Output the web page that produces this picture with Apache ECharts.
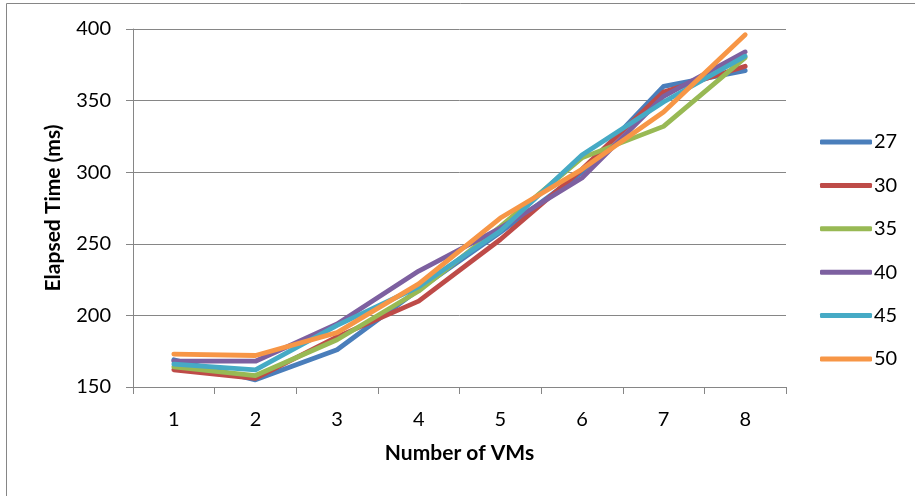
<!DOCTYPE html>
<html><head><meta charset="utf-8">
<script src="https://cdn.jsdelivr.net/npm/echarts@6/dist/echarts.min.js"></script>
<style>html,body{margin:0;padding:0;background:#fff}#c{width:915px;height:496px}</style>
</head><body><div id="c"></div>
<script>
var categories = ['1','2','3','4','5','6','7','8'];
var seriesNames = ['27','30','35','40','45','50'];
var s27 = [169,155,176,218,258,300,360,371];
var s30 = [162,156,185,210,253,302,356,374];
var s35 = [164,158,183,217,262,310,332,380];
var s40 = [168,168,194,231,261,296,353,384];
var s45 = [166,162,193,220,259,312,349,381];
var s50 = [173,172,188,222,268,302,342,396];
var yTicks = [150,200,250,300,350,400];
var colors = ['#4A7EBB','#BE4B48','#98B954','#7D60A0','#46AAC5','#F79646'];
var allData = [s27,s30,s35,s40,s45,s50];
var font = 'Lato, "Open Sans", sans-serif';
var chart = echarts.init(document.getElementById('c'));
chart.setOption({
  animation:false,
  backgroundColor:'#fff',
  color:colors,
  graphic:[
    {type:'line',shape:{x1:6.5,y1:3.5,x2:915,y2:3.5},style:{stroke:'#868686',lineWidth:1}},
    {type:'line',shape:{x1:6.5,y1:3.5,x2:6.5,y2:496},style:{stroke:'#868686',lineWidth:1}}
  ],
  grid:{left:133,top:29,right:129,bottom:109},
  legend:{
    orient:'vertical',left:815,top:127,
    itemWidth:52,itemHeight:5,itemGap:23.4,icon:'roundRect',
    textStyle:{fontFamily:font,fontSize:20,color:'#000',lineHeight:20,padding:[0,0,0,-3]},
    data:seriesNames
  },
  xAxis:{
    type:'category',data:categories,boundaryGap:true,
    name:'Number of VMs',nameLocation:'middle',nameGap:56,
    nameTextStyle:{fontFamily:font,fontSize:21,fontWeight:'bold',color:'#000'},
    axisLine:{lineStyle:{color:'#868686',width:1}},
    axisTick:{show:true,length:7,lineStyle:{color:'#868686'}},
    axisLabel:{fontFamily:font,fontSize:20,color:'#000',margin:23}
  },
  yAxis:{
    type:'value',min:yTicks[0],max:yTicks[yTicks.length-1],interval:50,
    name:'Elapsed Time (ms)',nameLocation:'middle',nameGap:69,
    nameTextStyle:{fontFamily:font,fontSize:21,fontWeight:'bold',color:'#000'},
    axisLine:{show:true,lineStyle:{color:'#868686',width:1}},
    axisTick:{show:true,length:7,lineStyle:{color:'#868686'}},
    axisLabel:{fontFamily:font,fontSize:20,color:'#000',margin:22},
    splitLine:{lineStyle:{color:'#868686',width:1}}
  },
  series:seriesNames.map(function(n,i){
    return {name:n,type:'line',data:allData[i],symbol:'none',
      lineStyle:{width:4.8,color:colors[i],cap:'round',join:'round'},
      itemStyle:{color:colors[i]}};
  })
});
</script></body></html>
